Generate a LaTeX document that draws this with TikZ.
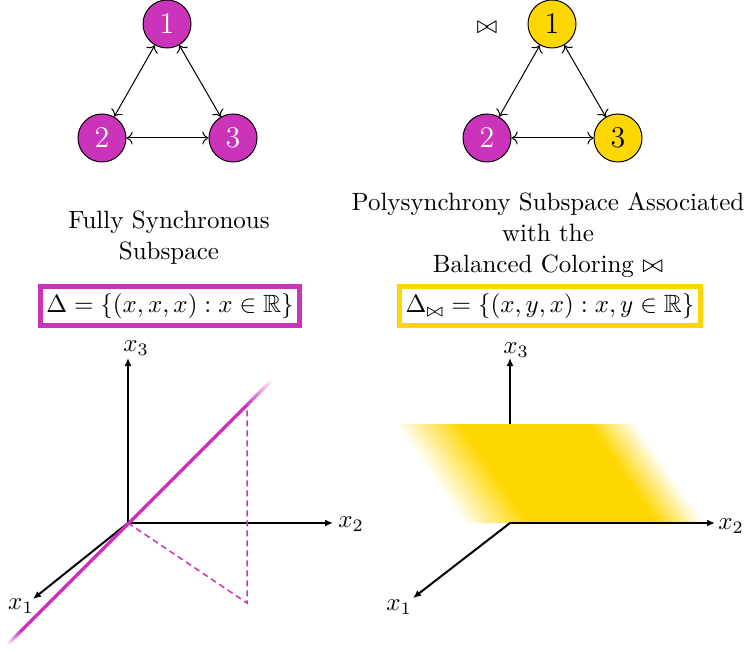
\documentclass[tikz,border=0pt]{standalone}
\usepackage{amssymb}
\usetikzlibrary{arrows.meta,calc}
\definecolor{synmag}{RGB}{204,51,187}
\definecolor{polyyel}{RGB}{255,215,0}

\begin{document}
\begin{tikzpicture}[x=0.4pt,y=-0.4pt,
  vertex/.style={circle,draw=black,minimum size=19.2pt,inner sep=0pt,font=\large},
  magv/.style={vertex,fill=synmag,text=white},
  yelv/.style={vertex,fill=polyyel,text=black},
  link/.style={<->,black},
  axis/.style={-{Latex[length=3.2pt,width=2.8pt]},line width=0.8pt},
  title/.style={align=center,anchor=north,inner sep=0pt,font=\fontsize{10}{12.4}\selectfont},
  setbox/.style={draw,line width=2pt,inner sep=0pt,minimum height=15.8pt},
  diag/.style={synmag,line width=1.3pt},
  proj/.style={synmag,line width=0.6pt,dash pattern=on 2.4pt off 1.6pt}]
\useasboundingbox (0,0) rectangle (750,651);

% ---- graph with all cells synchronised ----
\node[magv] (a1) at (167,24) {1};
\node[magv] (a2) at (102,138) {2};
\node[magv] (a3) at (233,138) {3};
\draw[link] (a1) -- (a2);
\draw[link] (a1) -- (a3);
\draw[link] (a2) -- (a3);

% ---- graph with the balanced colouring ----
\node (bt) at (487,28) {$\bowtie$};
\node[yelv] (b1) at (552,24) {1};
\node[magv] (b2) at (487,138) {2};
\node[yelv] (b3) at (618,138) {3};
\draw[link] (b1) -- (b2);
\draw[link] (b1) -- (b3);
\draw[link] (b2) -- (b3);

% ---- titles ----
\node[title] (ltitle) at (169,210) {Fully Synchronous\\Subspace};
\node[title] (rtitle) at (548,192) {Polysynchrony Subspace Associated\\with the\\Balanced Coloring $\bowtie$};

\node[setbox,draw=synmag,minimum width=103.6pt] (lset) at (170,306)
  {$\Delta=\{(x,x,x):x\in\mathbb{R}\}$};
\node[setbox,draw=polyyel,minimum width=120.4pt] (rset) at (550,306)
  {$\Delta_{\bowtie}=\{(x,y,x):x,y\in\mathbb{R}\}$};

% ---- left axes: the diagonal ----
\coordinate (lo) at (128,523);
\coordinate (lx3) at (128,358);
\coordinate (lx2) at (333,523);
\coordinate (lx1) at (33,599);
\draw[axis] (lo) -- (lx3);
\draw[axis] (lo) -- (lx2);
\draw[axis] (lo) -- (lx1);
\node (lx3lab) at (136,348) {$x_3$};
\node (lx2lab) at (351,524) {$x_2$};
\node (lx1lab) at (21,606) {$x_1$};

\coordinate (lm0) at (7,645);
\coordinate (lm1) at (20,632);
\coordinate (lm2) at (247,405);
\coordinate (lm3) at (273,379);
\coordinate (lfoot) at (247,603);
\draw[proj] (lo) -- (lfoot) -- (lm2);
\draw[diag] (lm1) -- (lm2);
\foreach \i in {0,...,11}{
  \pgfmathtruncatemacro\p{100-100*(\i+0.5)/12}
  \pgfmathsetmacro\fa{\i/12}
  \pgfmathsetmacro\fb{(\i+1)/12}
  \draw[diag,color=synmag!\p!white] ($(lm1)!\fa!(lm0)$) -- ($(lm1)!\fb!(lm0)$);
  \draw[diag,color=synmag!\p!white] ($(lm2)!\fa!(lm3)$) -- ($(lm2)!\fb!(lm3)$);
}

% ---- right axes: the plane x1 = x3 ----
\coordinate (ro) at (510,523);
\coordinate (rx3) at (510,358);
\coordinate (rx2) at (715,523);
\coordinate (rx1) at (413,598);
\draw[axis] (ro) -- (rx3);

\fill[polyyel] (459,424) -- (591,424) -- (659,523) -- (527,523) -- cycle;
\foreach \i in {0,...,23}{
  \pgfmathsetmacro\ta{395+65*\i/24}
  \pgfmathsetmacro\tb{395+65*(\i+1)/24+0.4}
  \pgfmathtruncatemacro\p{100*(\i+0.5)/24}
  \fill[polyyel!\p!white] (\ta,424) -- (\tb,424) -- (\tb+68,523) -- (\ta+68,523) -- cycle;
  \pgfmathsetmacro\tc{590+47*\i/24-0.4}
  \pgfmathsetmacro\td{590+47*(\i+1)/24}
  \pgfmathtruncatemacro\q{100-100*(\i+0.5)/24}
  \fill[polyyel!\q!white] (\tc,424) -- (\td,424) -- (\td+68,523) -- (\tc+68,523) -- cycle;
}

\draw[axis] (ro) -- (rx2);
\draw[axis] (ro) -- (rx1);
\node (rx3lab) at (516,350) {$x_3$};
\node (rx2lab) at (731,526) {$x_2$};
\node (rx1lab) at (399,607) {$x_1$};
\end{tikzpicture}
\end{document}
